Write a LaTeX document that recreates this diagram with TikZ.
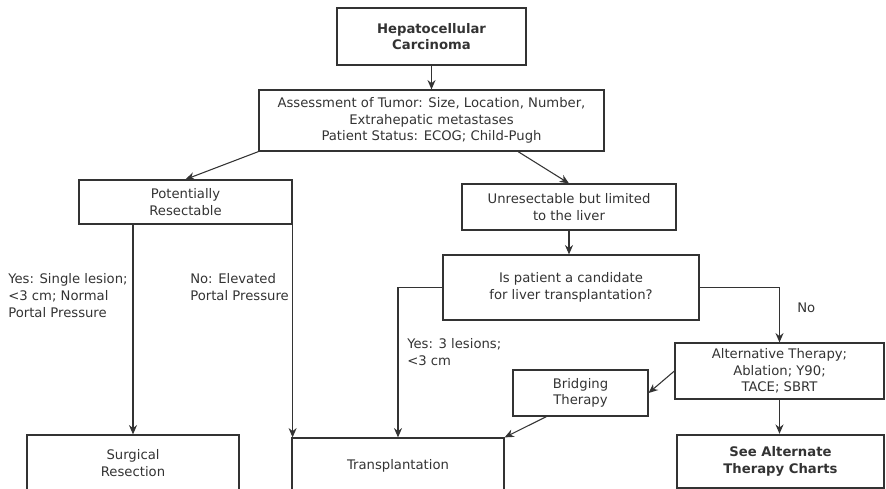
\documentclass[tikz,border=0pt]{standalone}
\usepackage{fontspec}
\setmainfont{DejaVu Sans}
\usetikzlibrary{calc,arrows.meta}

\begin{document}
\begin{tikzpicture}[x=0.75pt,y=-0.75pt,>={Stealth[length=7pt,width=6pt]},
  every node/.style={font=\fontsize{9.9}{12.5}\selectfont,text=black!80},
  box/.style={draw=black!80,line width=0.9pt,align=center,inner sep=0pt},
  thickbox/.style={box,line width=1.8pt,font=\fontsize{9.9}{12.5}\selectfont\bfseries},
  link/.style={->,draw=black!80,line width=0.8pt},
  lbl/.style={align=left,anchor=west,inner sep=0pt}]
  \def\px{0.75pt}
  % Frame
  \useasboundingbox (0,0) rectangle (886,489);
  \clip (0,0) rectangle (886,489);
  %
  % Boxes
  \node[thickbox,minimum width=189*\px,minimum height=57*\px] (hcc) at (431.5,36.5)
    {Hepatocellular\\Carcinoma};
  \node[box,minimum width=345*\px,minimum height=61*\px] (assess) at (431.5,120.5)
    {Assessment of Tumor: Size, Location, Number,\\Extrahepatic metastases\\Patient Status: ECOG; Child-Pugh};
  \node[box,minimum width=213*\px,minimum height=44*\px] (resect) at (185.5,202)
    {Potentially\\Resectable};
  \node[box,minimum width=214*\px,minimum height=46*\px] (unres) at (569,207)
    {Unresectable but limited\\to the liver};
  \node[box,minimum width=256*\px,minimum height=65*\px] (cand) at (571,287.5)
    {Is patient a candidate\\for liver transplantation?};
  \node[box,minimum width=209*\px,minimum height=56*\px] (alt) at (779.5,371)
    {Alternative Therapy;\\Ablation; Y90;\\TACE; SBRT};
  \node[box,minimum width=135*\px,minimum height=46*\px] (bridge) at (580.5,393)
    {Bridging\\Therapy};
  \node[box,minimum width=212*\px,minimum height=56*\px] (surg) at (133,463)
    {Surgical\\Resection};
  \node[box,minimum width=212*\px,minimum height=56*\px] (transp) at (398,466)
    {Transplantation};
  \node[thickbox,minimum width=207*\px,minimum height=53*\px] (seealt) at (780.5,461.5)
    {See Alternate\\Therapy Charts};
  %
  % Labels
  \node[lbl] (yesres) at (8,295.5) {Yes: Single lesion;\\<3 cm; Normal\\Portal Pressure};
  \node[lbl] (nores) at (190,287) {No: Elevated\\Portal Pressure};
  \node[lbl] (yestr) at (407,352) {Yes: 3 lesions;\\<3 cm};
  \node[lbl] (notr) at (797,308) {No};
  %
  % Connectors
  \coordinate (asr) at ($(assess.south)!0.5!(assess.south east)$);
  \coordinate (brs) at ($(bridge.south west)!0.25!(bridge.south east)$);
  \draw[link] (hcc) -- (assess);
  \draw[link] (assess.south west) -- (resect.north);
  \draw[link] (asr) -- (unres.north);
  \draw[link] (unres.south) -- (unres.south |- cand.north);
  \draw[link] (resect.south -| surg.north) -- (surg.north);
  \draw[link] (resect.south east) -- (resect.south east |- transp.north);
  \draw[link] (cand.west) -| (transp.north);
  \draw[link] (cand.east) -| (alt.north);
  \draw[link] (alt.west) -- (bridge.east);
  \draw[link] (brs) -- (transp.north east);
  \draw[link] (alt.south) -- (alt.south |- seealt.north);
\end{tikzpicture}
\end{document}
